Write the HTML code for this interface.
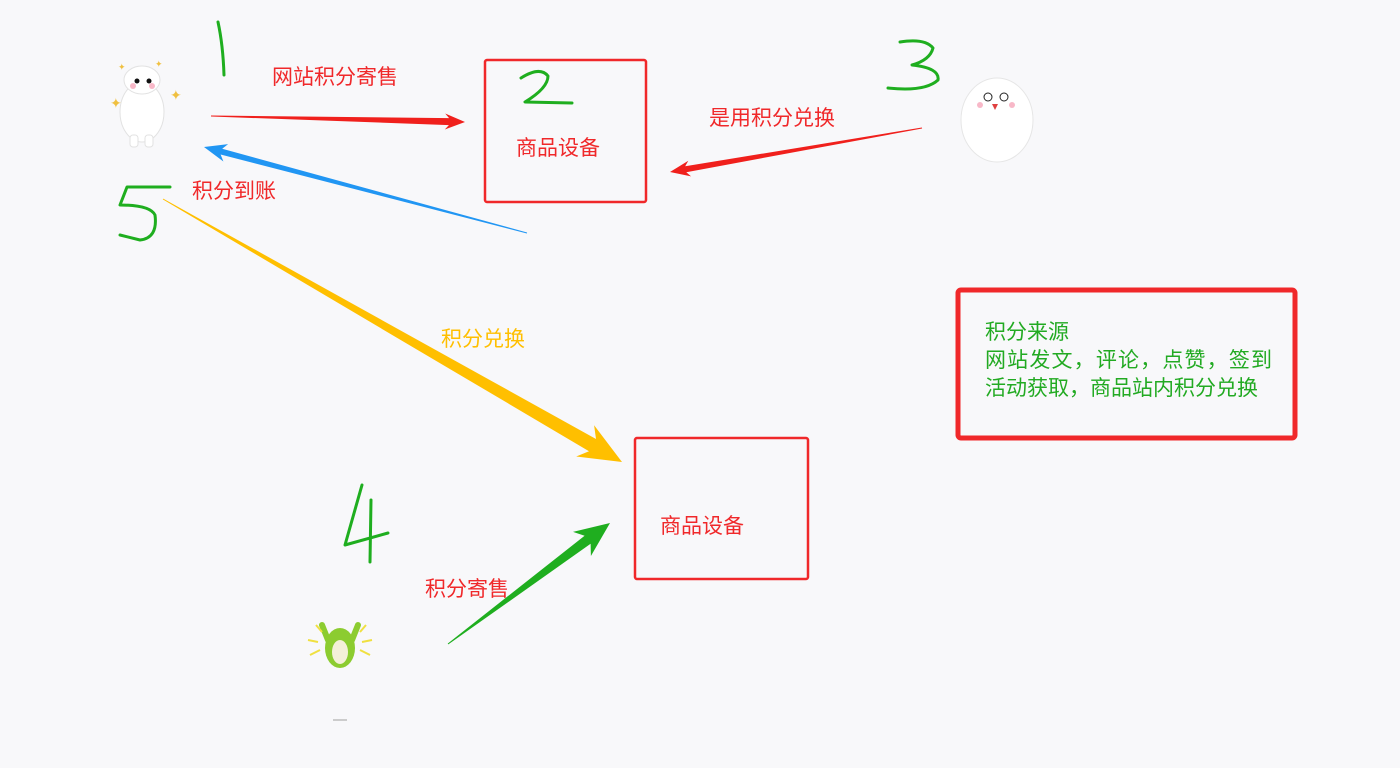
<!DOCTYPE html>
<html><head><meta charset="utf-8"><style>
html,body{margin:0;padding:0;background:#f8f8fa;}
svg{display:block}
text{font-family:"Liberation Sans","Noto Sans CJK SC",sans-serif;}
</style></head><body>
<svg id="s" width="1400" height="768" xmlns="http://www.w3.org/2000/svg">
<rect width="1400" height="768" fill="#f8f8fa"/>
<rect x="485" y="60" width="161" height="142" fill="none" stroke="#f0282a" stroke-width="2.5" rx="2"/>
<rect x="635" y="438" width="173" height="141" fill="none" stroke="#f0282a" stroke-width="2.5" rx="2"/>
<rect x="958" y="290" width="337" height="148" fill="none" stroke="#f0282a" stroke-width="5" rx="3"/>
<g font-size="21" fill="#f0282a">
<text x="516" y="155" textLength="84">商品设备</text>
<text x="660" y="533" textLength="84">商品设备</text>
<text x="272" y="84" textLength="126">网站积分寄售</text>
<text x="709" y="125" textLength="126">是用积分兑换</text>
<text x="192" y="198" textLength="84">积分到账</text>
<text x="425" y="596" textLength="84">积分寄售</text>
</g>
<text x="441" y="346" font-size="21" fill="#ffbf00" textLength="84">积分兑换</text>
<g font-size="21" fill="#22aa22">
<text x="985" y="339" textLength="84">积分来源</text>
<text x="985" y="367" textLength="287">网站发文，评论，点赞，签到</text>
<text x="985" y="395" textLength="273">活动获取，商品站内积分兑换</text>
</g>
<g fill="none" stroke="#1fae1f" stroke-width="3" stroke-linecap="round" stroke-linejoin="round">
<path d="M218 22 Q223 45 224 75"/>
<path d="M521 78 Q540 66 548 76 Q548 88 525 102 L572 103"/>
<path d="M900 42 Q925 38 933 48 Q930 60 912 65 Q940 68 938 80 Q925 92 888 88"/>
<path d="M362 485 L345 545 L388 533 M371 500 L370 562"/>
<path d="M170 187 L127 187 L120 205 Q150 205 155 215 Q158 238 140 240 L120 235"/>
</g>
<g id="arr"></g>
<g>
<ellipse cx="142" cy="112" rx="22" ry="30" fill="#fff" stroke="#e2e2e2"/>
<ellipse cx="142" cy="80" rx="18" ry="14" fill="#fff" stroke="#e2e2e2"/>
<circle cx="137" cy="81" r="2.5" fill="#111"/><circle cx="149" cy="81" r="2.5" fill="#111"/>
<circle cx="133" cy="86" r="3" fill="#f8b8c8"/><circle cx="152" cy="86" r="3" fill="#f8b8c8"/>
<rect x="130" y="135" width="8" height="12" rx="3" fill="#fff" stroke="#e2e2e2"/>
<rect x="145" y="135" width="8" height="12" rx="3" fill="#fff" stroke="#e2e2e2"/>
<text x="110" y="108" font-size="14" fill="#f0c040">✦</text>
<text x="170" y="100" font-size="14" fill="#f0c040">✦</text>
<text x="118" y="70" font-size="9" fill="#f0c040">✦</text>
<text x="155" y="67" font-size="9" fill="#f0c040">✦</text>
</g>
<g>
<ellipse cx="997" cy="120" rx="36" ry="42" fill="#fff" stroke="#e6e6e6"/>
<circle cx="988" cy="97" r="4" fill="none" stroke="#222"/><circle cx="1004" cy="97" r="4" fill="none" stroke="#222"/>
<path d="M992 104 L998 104 L995 110 Z" fill="#e04040"/>
<circle cx="980" cy="105" r="3" fill="#f8b8c8"/><circle cx="1012" cy="105" r="3" fill="#f8b8c8"/>
</g>
<g>
<ellipse cx="340" cy="648" rx="15" ry="20" fill="#8ccc30"/>
<ellipse cx="340" cy="652" rx="8" ry="12" fill="#f4f0d8"/>
<path d="M322 625 L328 640 M358 625 L352 640" stroke="#8ccc30" stroke-width="6" stroke-linecap="round"/>
<g stroke="#f0e040" stroke-width="2"><path d="M308 640 L318 642 M310 655 L320 650 M372 640 L362 642 M370 655 L360 650 M316 625 L322 632 M366 625 L360 632"/></g>
<path d="M333 720 L347 720" stroke="#ccc" stroke-width="2"/>
</g>
</svg>
<script>
function arrow(x1,y1,x2,y2,w0,w1,hl,hw,col){
 var dx=x2-x1,dy=y2-y1,L=Math.hypot(dx,dy),ux=dx/L,uy=dy/L,nx=-uy,ny=ux;
 var bx=x2-ux*hl,by=y2-uy*hl;
 var p=[[x1+nx*w0/2,y1+ny*w0/2],[bx+nx*w1/2,by+ny*w1/2],[bx+nx*hw/2-ux*hl*0.25,by+ny*hw/2-uy*hl*0.25],[x2,y2],
 [bx-nx*hw/2-ux*hl*0.25,by-ny*hw/2-uy*hl*0.25],[bx-nx*w1/2,by-ny*w1/2],[x1-nx*w0/2,y1-ny*w0/2]];
 var e=document.createElementNS("http://www.w3.org/2000/svg","polygon");
 e.setAttribute("points",p.map(function(q){return q[0].toFixed(1)+","+q[1].toFixed(1)}).join(" "));
 e.setAttribute("fill",col);document.getElementById("arr").appendChild(e);
}
arrow(211,116,465,122,1,7,16,16,"#f0201c");
arrow(922,128,670,172,1,6,16,16,"#f0201c");
arrow(527,233,204,147,1,6,18,18,"#2196f3");
arrow(163,199,622,462,1,14,34,36,"#ffbf00");
arrow(448,644,610,523,1,10,28,30,"#1fae1f");
</script>
</body></html>
